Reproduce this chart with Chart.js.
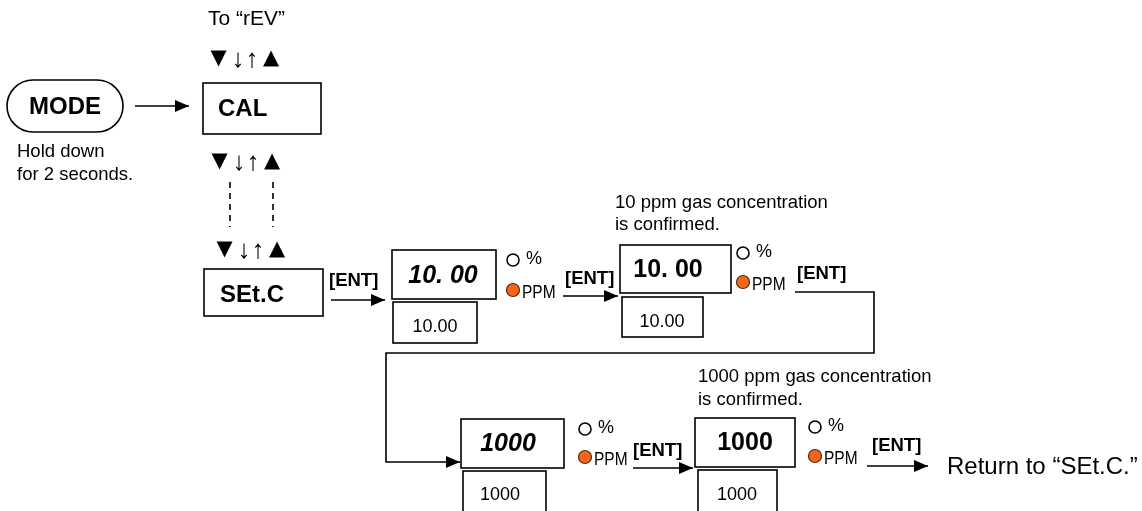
<!DOCTYPE html>
<html>
<head>
<meta charset="utf-8">
<script src="https://cdn.jsdelivr.net/npm/chart.js@4.4.0/dist/chart.umd.min.js"></script>
<style>
  html, body { margin: 0; padding: 0; background: #fff; }
  #wrap { width: 1142px; height: 511px; }
</style>
</head>
<body>
<div id="wrap"><canvas id="flow" width="1142" height="511"></canvas></div>
<script>
// Calibration flow (MODE -> CAL -> SEt.C -> 10 ppm -> 1000 ppm)

const FONT = '"Liberation Sans", Arial, sans-serif';

// display boxes: [x1, y1, x2, y2]
const boxRects = [
    [203, 83, 321, 134],   // CAL
    [204, 269, 323, 316],  // SEt.C
    [392, 250, 496, 299],  // 10.00 blinking
    [393, 302, 477, 343],
    [620, 245, 731, 293],  // 10.00 confirmed
    [622, 297, 703, 337],
    [461, 419, 564, 468],  // 1000 blinking
    [463, 471, 546, 520],
    [695, 418, 795, 467],  // 1000 confirmed
    [698, 470, 777, 520]
];
const boxLabels = ['CAL', 'SEt.C', '10. 00', '10.00', '10. 00', '10.00', '1000', '1000', '1000', '1000'];
const boxLabelPos = [[218, 109, 'left'], [220, 295, 'left'], [443, 276, 'center'], [435, 327, 'center'],
                     [668, 270, 'center'], [662, 322, 'center'], [508, 444, 'center'], [500, 495, 'center'],
                     [745, 443, 'center'], [737, 495, 'center']];
const boxFonts = ['bold 24px', 'bold 24px', 'italic bold 25px', '18px', 'bold 25px', '18px',
                  'italic bold 25px', '18px', 'bold 25px', '18px'];

// connector lines (arrow = ends with arrowhead)
const connectors = [
    { pts: [[135, 106], [189, 106]], arrow: true },
    { pts: [[331, 300], [385, 300]], arrow: true },
    { pts: [[563, 296], [618, 296]], arrow: true },
    { pts: [[795, 292], [874, 292], [874, 353], [386, 353], [386, 462], [460, 462]], arrow: true },
    { pts: [[633, 468], [693, 468]], arrow: true },
    { pts: [[867, 466], [928, 466]], arrow: true }
];
const dashedLinks = [
    [[230, 182], [230, 227]],
    [[273, 182], [273, 227]]
];

// indicator lamps
const lampOff = [[513, 260], [743, 253], [585, 429], [815, 427]];
const lampOn = [[513, 290], [743, 282], [585, 457], [815, 456]];
const lampText = ['%', 'PPM'];

// key labels
const entLabels = ['[ENT]', '[ENT]', '[ENT]', '[ENT]', '[ENT]'];
const entPos = [[329, 281], [565, 279], [797, 274], [633, 451], [872, 446]];

// up/down key rows (glyph centres relative to row start)
const keyGlyphs = ['▼', '↓', '↑', '▲'];
const keyRows = [[212, 59], [213, 162], [218, 250]];
const keyOffsets = [6.5, 26, 40, 59];

// free text
const notes = [
    ['To \u201crEV\u201d', 208, 19, '21px'],
    ['Hold down', 17, 152, '18.5px'],
    ['for 2 seconds.', 17, 175, '18.5px'],
    ['10 ppm gas concentration', 615, 203, '18.5px'],
    ['is confirmed.', 615, 225, '18.5px'],
    ['1000 ppm gas concentration', 698, 377, '18.5px'],
    ['is confirmed.', 698, 400, '18.5px'],
    ['Return to \u201cSEt.C.\u201d', 947, 467, '24px']
];

const modeKey = { label: 'MODE', rect: [7, 80, 123, 132] };

function toXY(p) { return { x: p[0], y: p[1] }; }

const datasets = [];
connectors.forEach(c => datasets.push({
    data: c.pts.map(toXY), showLine: true, borderColor: '#000', borderWidth: 1.6,
    pointRadius: 0, fill: false, tension: 0
}));
dashedLinks.forEach(d => datasets.push({
    data: d.map(toXY), showLine: true, borderColor: '#000', borderWidth: 1.6,
    borderDash: [6, 5], pointRadius: 0, fill: false
}));
datasets.push({
    data: lampOff.map(toXY), pointRadius: 6, pointBorderWidth: 1.6,
    pointBackgroundColor: '#fff', pointBorderColor: '#000', showLine: false
});
datasets.push({
    data: lampOn.map(toXY), pointRadius: 6.5, pointBorderWidth: 1.2,
    pointBackgroundColor: '#f4661b', pointBorderColor: '#5a2a10', showLine: false
});

const diagramPlugin = {
    id: 'diagram',
    afterDatasetsDraw(chart) {
        const ctx = chart.ctx;
        const xs = chart.scales.x, ys = chart.scales.y;
        const px = v => xs.getPixelForValue(v);
        const py = v => ys.getPixelForValue(v);
        ctx.save();
        ctx.strokeStyle = '#000';
        ctx.fillStyle = '#000';
        ctx.lineWidth = 1.6;

        // boxes
        boxRects.forEach((r, i) => {
            ctx.strokeRect(px(r[0]), py(r[1]), px(r[2]) - px(r[0]), py(r[3]) - py(r[1]));
            const lp = boxLabelPos[i];
            ctx.font = boxFonts[i] + ' ' + FONT;
            ctx.textAlign = lp[2];
            ctx.textBaseline = 'middle';
            ctx.fillText(boxLabels[i], px(lp[0]), py(lp[1]));
        });

        // MODE pill
        const m = modeKey.rect;
        const h = py(m[3]) - py(m[1]);
        ctx.beginPath();
        ctx.roundRect(px(m[0]), py(m[1]), px(m[2]) - px(m[0]), h, h / 2);
        ctx.stroke();
        ctx.font = 'bold 24px ' + FONT;
        ctx.textAlign = 'center';
        ctx.textBaseline = 'middle';
        ctx.fillText(modeKey.label, px((m[0] + m[2]) / 2), py((m[1] + m[3]) / 2 + 1));

        // arrowheads
        connectors.filter(c => c.arrow).forEach(c => {
            const a = c.pts[c.pts.length - 2], b = c.pts[c.pts.length - 1];
            const ang = Math.atan2(py(b[1]) - py(a[1]), px(b[0]) - px(a[0]));
            const L = 14, W = 6;
            const tx = px(b[0]), ty = py(b[1]);
            ctx.beginPath();
            ctx.moveTo(tx, ty);
            ctx.lineTo(tx - L * Math.cos(ang) + W * Math.sin(ang), ty - L * Math.sin(ang) - W * Math.cos(ang));
            ctx.lineTo(tx - L * Math.cos(ang) - W * Math.sin(ang), ty - L * Math.sin(ang) + W * Math.cos(ang));
            ctx.closePath();
            ctx.fill();
        });

        // lamp labels
        ctx.textAlign = 'left';
        ctx.textBaseline = 'middle';
        lampOff.forEach(p => {
            ctx.font = '18px ' + FONT;
            ctx.fillText(lampText[0], px(p[0] + 13), py(p[1] - 1));
        });
        lampOn.forEach(p => {
            ctx.save();
            ctx.translate(px(p[0] + 9), py(p[1] + 3));
            ctx.scale(0.86, 1);
            ctx.font = '18px ' + FONT;
            ctx.fillText(lampText[1], 0, 0);
            ctx.restore();
        });

        // ENT labels
        ctx.font = 'bold 18.5px ' + FONT;
        entLabels.forEach((t, i) => ctx.fillText(t, px(entPos[i][0]), py(entPos[i][1])));

        // key rows
        ctx.textAlign = 'center';
        keyRows.forEach(r => {
            keyGlyphs.forEach((g, i) => {
                const isArrow = (g === '↓' || g === '↑');
                ctx.font = isArrow ? '26px ' + FONT : '21px "DejaVu Sans", sans-serif';
                ctx.fillText(g, px(r[0] + keyOffsets[i]), py(r[1] + (isArrow ? 1 : 0)));
            });
        });

        // notes
        ctx.textAlign = 'left';
        notes.forEach(n => {
            ctx.font = n[3] + ' ' + FONT;
            ctx.fillText(n[0], px(n[1]), py(n[2]));
        });
        ctx.restore();
    }
};

new Chart(document.getElementById('flow'), {
    type: 'scatter',
    data: { datasets: datasets },
    options: {
        responsive: false,
        animation: false,
        layout: { padding: 0, autoPadding: false },
        plugins: { legend: { display: false }, tooltip: { enabled: false } },
        scales: {
            x: { type: 'linear', min: 0, max: 1142, display: false },
            y: { type: 'linear', min: 0, max: 511, reverse: true, display: false }
        }
    },
    plugins: [diagramPlugin]
});
</script>
</body>
</html>
